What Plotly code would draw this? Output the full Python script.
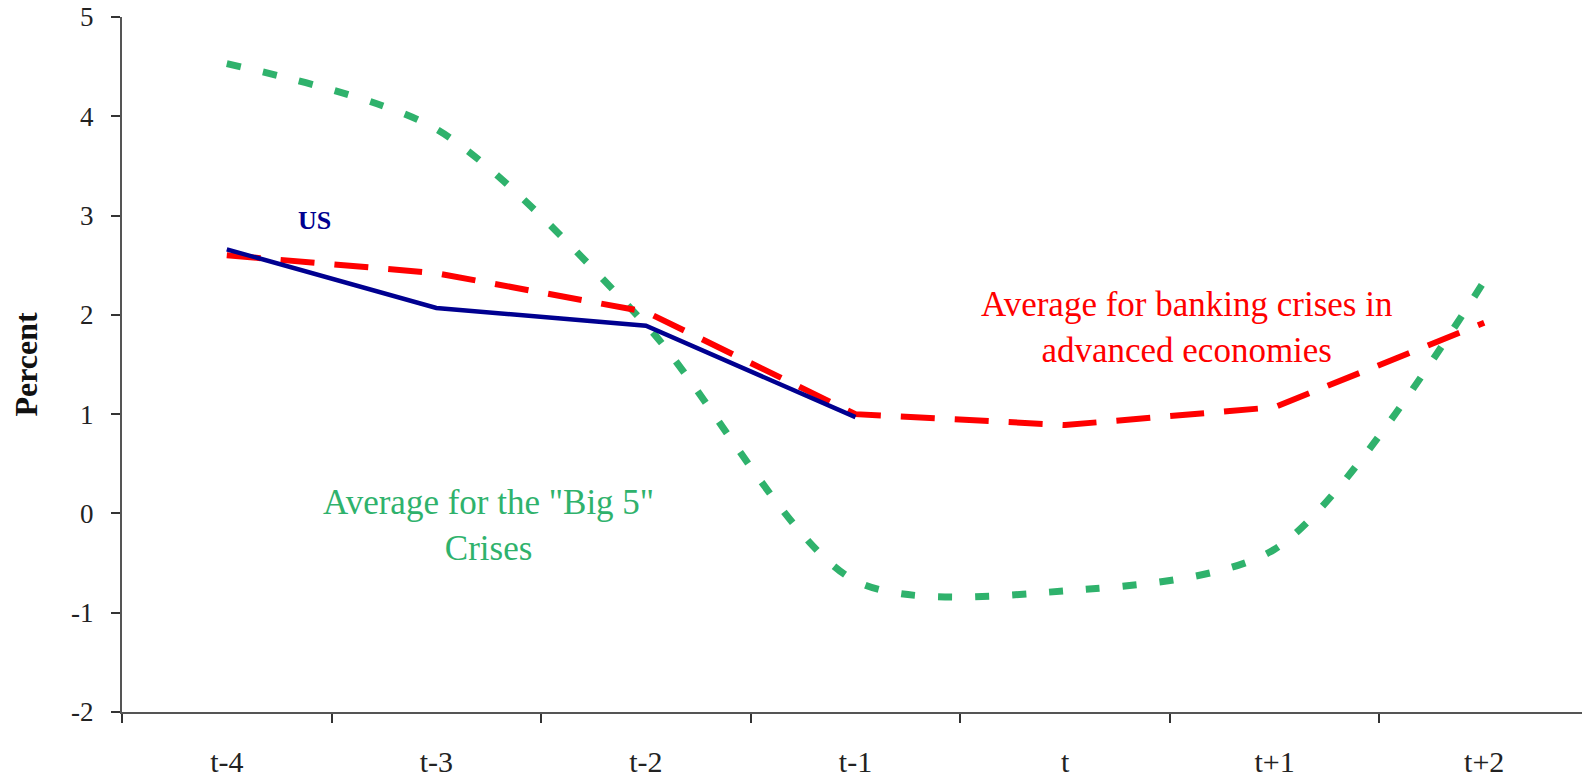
import plotly.graph_objects as go

categories = ["t-4", "t-3", "t-2", "t-1", "t", "t+1", "t+2"]
us = [2.66, 2.07, 1.89, 0.97]
banking_adv = [2.60, 2.42, 2.03, 1.00, 0.89, 1.07, 1.92]
big5 = [4.53, 3.87, 1.90, -0.68, -0.78, -0.36, 2.34]
y_ticks = [-2, -1, 0, 1, 2, 3, 4, 5]
y_tick_text = ["-2", "-1", "0", "1", "2", "3", "4", "5"]

GREEN = "#2FB26C"
RED = "#FF0000"
BLUE = "#000090"
FONT = "Liberation Serif"

fig = go.Figure()
fig.add_trace(go.Scatter(x=categories, y=big5, mode="lines",
                         line=dict(color=GREEN, width=7, dash="14px,23px", shape="spline", smoothing=0.8),
                         showlegend=False))
fig.add_trace(go.Scatter(x=categories, y=banking_adv, mode="lines",
                         line=dict(color=RED, width=6, dash="34px,20px"),
                         showlegend=False))
fig.add_trace(go.Scatter(x=categories[:len(us)], y=us, mode="lines",
                         line=dict(color=BLUE, width=4.5),
                         showlegend=False))

fig.add_annotation(x=0.42, y=2.95, xref="x", yref="y", text="<b>US</b>", showarrow=False,
                   font=dict(family=FONT, size=26, color=BLUE))
fig.add_annotation(x=4.58, y=1.87, xref="x", yref="y",
                   text="Average for banking crises in<br>advanced economies", showarrow=False,
                   font=dict(family=FONT, size=35, color=RED))
fig.add_annotation(x=1.25, y=-0.12, xref="x", yref="y",
                   text='Average for the "Big 5"<br>Crises', showarrow=False,
                   font=dict(family=FONT, size=35, color=GREEN))

fig.update_layout(
    width=1590, height=783,
    margin=dict(l=114, r=9, t=9, b=79),
    paper_bgcolor="white", plot_bgcolor="white",
    font=dict(family=FONT, size=28, color="#222222"),
    showlegend=False,
)
fig.update_xaxes(type="category", range=[-0.5, 6.5], showline=True, linecolor="#555555", linewidth=2,
                 ticks="outside", tickson="boundaries", ticklen=9, tickcolor="#333333", tickwidth=1.5,
                 showgrid=False, zeroline=False, ticklabelstandoff=22, automargin=False,
                 ticklabeloverflow="allow",
                 tickfont=dict(family=FONT, size=30, color="#222222"))
fig.update_yaxes(range=[-2, 5], tickvals=y_ticks, ticktext=y_tick_text, showline=True,
                 linecolor="#555555", linewidth=2,
                 ticks="outside", ticklen=9, tickcolor="#333333", tickwidth=1.5,
                 showgrid=False, zeroline=False, automargin=False,
                 ticklabelstandoff=12, ticklabeloverflow="allow",
                 tickfont=dict(family=FONT, size=27, color="#222222"),
                 title=dict(text="<b>Percent</b>", standoff=30,
                            font=dict(family=FONT, size=32, color="#111111")))

fig.write_html("out.html")
